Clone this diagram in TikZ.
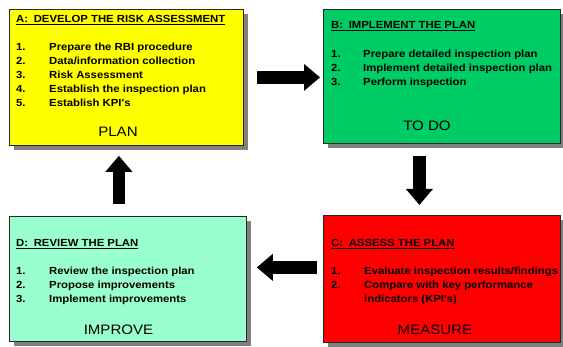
\documentclass[tikz,border=0pt]{standalone}
\usepackage{fontspec}
\setmainfont{Liberation Sans}
\newfontfamily\widefont[FakeStretch=1.1]{Liberation Sans}
\usetikzlibrary{shadows,arrows.meta}
\definecolor{cA}{RGB}{255,255,0}
\definecolor{cB}{RGB}{0,204,102}
\definecolor{cD}{RGB}{153,255,204}
\definecolor{cC}{RGB}{255,0,0}
\definecolor{shad}{RGB}{128,128,128}
\tikzset{
 box/.style={draw=black!85, line width=0.8pt, anchor=north west, inner sep=0pt,
   drop shadow={shadow xshift=5pt, shadow yshift=-5pt, fill=shad, opacity=1}},
 ttl/.style={anchor=base west, inner sep=0pt, font=\widefont\fontsize{10.3}{12}\selectfont\bfseries},
 itm/.style={anchor=base west, inner sep=0pt, font=\widefont\fontsize{10.3}{12}\selectfont\bfseries},
 big/.style={anchor=base, inner sep=0pt, font=\widefont\fontsize{13.7}{16}\selectfont},
 blockarrow/.style={line width=12.5pt, -{Triangle[width=26pt,length=16pt]}},
}
\begin{document}
\begin{tikzpicture}[x=1pt,y=-1pt]
\path[fill=white,use as bounding box] (0,0) rectangle (563,347);
% boxes
\node[box, fill=cA, minimum width=234pt, minimum height=136pt] (A) at (9,9) {};
\node[box, fill=cB, minimum width=237pt, minimum height=134pt] (B) at (323,9) {};
\node[box, fill=cD, minimum width=237pt, minimum height=125pt] (D) at (9,216) {};
\node[box, fill=cC, minimum width=237pt, minimum height=127pt] (C) at (323,215) {};
% box A text
\node[ttl] (At) at (16,22.7) {\underline{A:\hspace{0.55em}DEVELOP THE RISK ASSESSMENT}};
\node[itm] (An1) at (16,50.5) {1.};
\node[itm] (An2) at (16,65) {2.};
\node[itm] (An3) at (16,78.5) {3.};
\node[itm] (An4) at (16,92.5) {4.};
\node[itm] (An5) at (16,107) {5.};
\node[itm] (Ai1) at (49,50.5) {Prepare the RBI procedure};
\node[itm] (Ai2) at (49,65) {Data/information collection};
\node[itm] (Ai3) at (49,78.5) {Risk Assessment};
\node[itm] (Ai4) at (49,92.5) {Establish the inspection plan};
\node[itm] (Ai5) at (49,107) {Establish KPI's};
\node[big] (Ab) at (118,137) {PLAN};
% box B text
\node[ttl] (Bt) at (331,29) {\underline{B:\hspace{0.55em}IMPLEMENT THE PLAN}};
\node[itm] (Bn1) at (331,57.3) {1.};
\node[itm] (Bn2) at (331,71.7) {2.};
\node[itm] (Bn3) at (331,85.7) {3.};
\node[itm] (Bi1) at (363,57.3) {Prepare detailed inspection plan};
\node[itm] (Bi2) at (363,71.7) {Implement detailed inspection plan};
\node[itm] (Bi3) at (363,85.7) {Perform inspection};
\node[big] (Bb) at (427,130.5) {TO DO};
% box D text
\node[ttl] (Dt) at (16,246.7) {\underline{D:\hspace{0.55em}REVIEW THE PLAN}};
\node[itm] (Dn1) at (16,274.5) {1.};
\node[itm] (Dn2) at (16,288.5) {2.};
\node[itm] (Dn3) at (16,302.5) {3.};
\node[itm] (Di1) at (49,274.5) {Review the inspection plan};
\node[itm] (Di2) at (49,288.5) {Propose improvements};
\node[itm] (Di3) at (49,302.5) {Implement improvements};
\node[big] (Db) at (118.5,335) {IMPROVE};
% box C text
\node[ttl] (Ct) at (331,247) {\underline{C:\hspace{0.55em}ASSESS THE PLAN}};
\node[itm] (Cn1) at (331,274.5) {1.};
\node[itm] (Cn2) at (331,289) {2.};
\node[itm] (Ci1) at (364,274.5) {Evaluate inspection results/findings};
\node[itm] (Ci2) at (364,289) {Compare with key performance};
\node[itm] (Ci3) at (364,303) {indicators (KPI's)};
\node[big] (Cb) at (435,335) {MEASURE};
% arrows
\draw[blockarrow] ([xshift=13pt]A.east) -- ([xshift=-3pt]B.west |- A.east);
\draw[blockarrow] ([xshift=-22.5pt,yshift=-12pt]B.south) -- ([xshift=-22.5pt,yshift=10pt]C.north);
\draw[blockarrow] ([xshift=-6pt,yshift=11.5pt]C.west) -- ([xshift=10pt,yshift=11.5pt]D.east);
\draw[blockarrow] ([xshift=-9pt,yshift=12pt]D.north) -- ([xshift=-7.5pt,yshift=-10pt]A.south);
\end{tikzpicture}
\end{document}
